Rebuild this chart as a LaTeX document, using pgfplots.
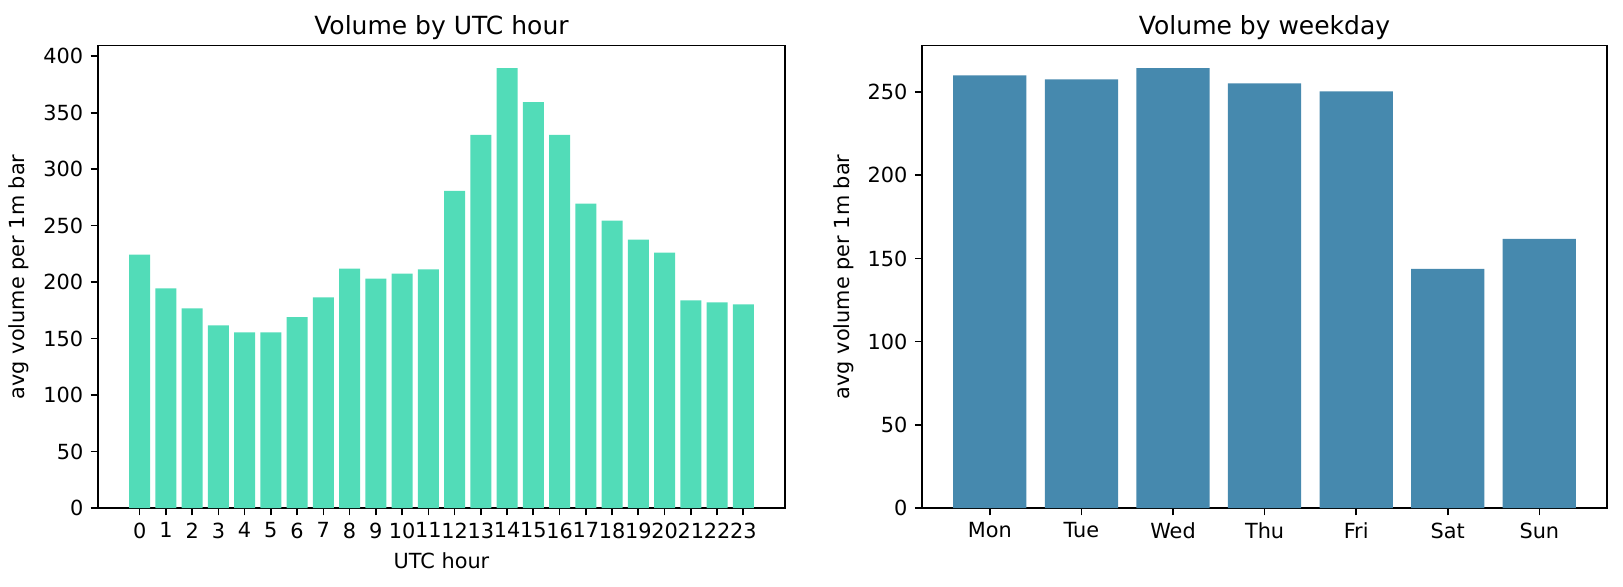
\documentclass[border=0pt]{standalone}
\usepackage{fontspec}
\setmainfont{DejaVu Sans}
\usepackage{pgfplots}
\pgfplotsset{compat=1.18}
\definecolor{hourbar}{RGB}{82,220,184}
\definecolor{daybar}{RGB}{70,137,174}
\pgfplotsset{
  mystyle/.style={
    scale only axis,
    anchor=south west,
    axis line style={black, line width=0.8pt},
    tick style={black, line width=0.8pt},
    major tick length=3.5pt,
    tick align=outside,
    xtick pos=bottom, ytick pos=left,
    /pgf/number format/assume math mode=true,
    tick label style={font=\fontsize{10}{12}\selectfont},
    label style={font=\fontsize{10}{12}\selectfont},
    title style={font=\fontsize{12}{14}\selectfont, yshift=-6.5pt},
    ymin=0,
    ybar, bar width=0.8, bar shift=0pt,
    ytick={0,50,...,400},
    yticklabel style={/pgf/number format/fixed},
    scaled y ticks=false,
  }
}
\begin{document}
\begin{tikzpicture}
\path[use as bounding box] (0,0) rectangle (779.04pt,281.28pt);
\begin{axis}[mystyle,
  at={(47pt,37.4pt)}, width=329.8pt, height=222pt,
  xmin=-1.59, xmax=24.59, ymax=409.4,
  xtick={0,1,...,23},
  title={Volume by UTC hour},
  xlabel={UTC hour},
  ylabel={avg volume per 1m bar},
]
\addplot[fill=hourbar, draw=none] coordinates {
(0,224.4) (1,194.4) (2,176.8) (3,161.8) (4,155.6) (5,155.6) (6,169.0) (7,186.6)
(8,212.0) (9,203.2) (10,207.6) (11,211.2) (12,280.9) (13,330.3) (14,389.4)
(15,359.4) (16,330.3) (17,269.4) (18,254.4) (19,237.6) (20,226.2) (21,183.8)
(22,182.1) (23,180.3)
};
\end{axis}
\begin{axis}[mystyle,
  at={(442.6pt,37.4pt)}, width=328.8pt, height=222pt,
  xmin=-0.74, xmax=6.74, ymax=277.9,
  xtick={0,1,...,6},
  xticklabels={Mon,Tue,Wed,Thu,Fri,Sat,Sun},
  title={Volume by weekday},
  ylabel={avg volume per 1m bar},
]
\addplot[fill=daybar, draw=none] coordinates {
(0,260.0) (1,257.6) (2,264.3) (3,255.2) (4,250.4) (5,143.8) (6,161.8)
};
\end{axis}
\end{tikzpicture}
\end{document}
